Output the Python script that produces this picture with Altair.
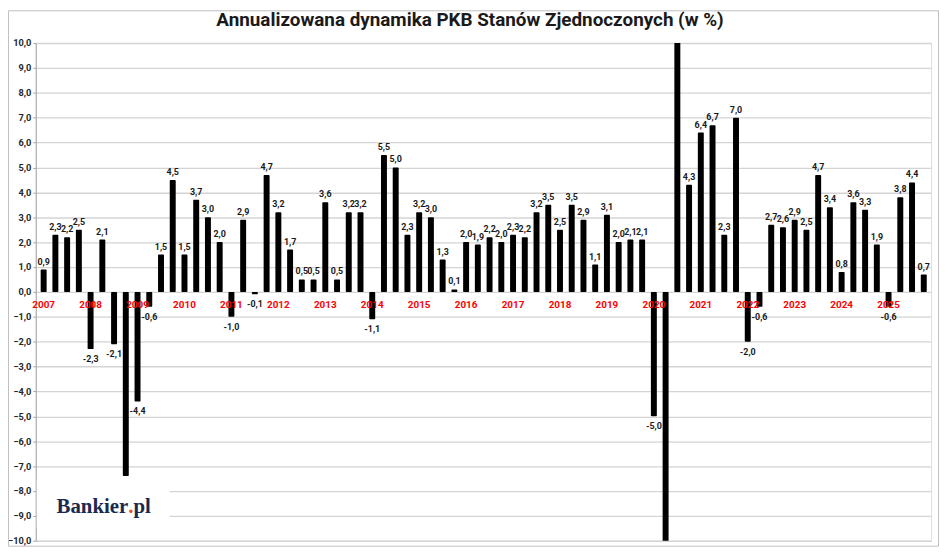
import altair as alt
import pandas as pd

# --- data ---
years = list(range(2007, 2026))
values = [
    0.9, 2.3, 2.2, 2.5,
    -2.3, 2.1, -2.1, -7.4,
    -4.4, -0.6, 1.5, 4.5,
    1.5, 3.7, 3.0, 2.0,
    -1.0, 2.9, -0.1, 4.7,
    3.2, 1.7, 0.5, 0.5,
    3.6, 0.5, 3.2, 3.2,
    -1.1, 5.5, 5.0, 2.3,
    3.2, 3.0, 1.3, 0.1,
    2.0, 1.9, 2.2, 2.0,
    2.3, 2.2, 3.2, 3.5,
    2.5, 3.5, 2.9, 1.1,
    3.1, 2.0, 2.1, 2.1,
    -5.0, -28.0, 35.2, 4.3,
    6.4, 6.7, 2.3, 7.0,
    -2.0, -0.6, 2.7, 2.6,
    2.9, 2.5, 4.7, 3.4,
    0.8, 3.6, 3.3, 1.9,
    -0.6, 3.8, 4.4, 0.7,
]
hidden_labels = [7, 53, 54]  # bars whose value label is not shown
y_ticks = list(range(-10, 11))
title_text = "Annualizowana dynamika PKB Stanów Zjednoczonych (w %)"

# --- tables ---
rows = []
for i, v in enumerate(values):
    rows.append({
        "idx": i,
        "value": v,
        "label": "" if i in hidden_labels else f"{v:.1f}".replace(".", ","),
    })
df = pd.DataFrame(rows)
df_years = pd.DataFrame({"idx": [4 * k for k in range(len(years))],
                         "year": [str(y) for y in years],
                         "value": [0] * len(years)})
one = pd.DataFrame({"a": [0]})

FONT = "Roboto"
W, H = 903, 502

xscale = alt.Scale(domain=[-0.25, 75.2], nice=False, zero=False)
yscale = alt.Scale(domain=[-10, 10], nice=False)
yaxis = alt.Axis(values=y_ticks, title=None, grid=True,
                 gridColor="#d4d4d4", gridWidth=1.3,
                 domainColor="#a6a6a6", tickColor="#a6a6a6",
                 tickSize=3, labelPadding=2,
                 labelOverlap=False, labelFlush=False,
                 labelFont=FONT, labelFontWeight="bold",
                 labelFontSize=9.3, labelColor="#262626",
                 labelExpr="replace(format(datum.value, '.1f'), '.', ',')")

X = alt.X("idx:Q", scale=xscale, axis=None)
Y = alt.Y("value:Q", scale=yscale, axis=yaxis)

base = alt.Chart(df)

bars = base.mark_bar(size=6, color="black", clip=True, cornerRadius=1).encode(
    x=X, y=Y, y2=alt.datum(0))

lab_pos = base.transform_filter("datum.value >= 0").mark_text(
    font=FONT, fontWeight="bold", fontSize=9, color="#1a1a1a",
    baseline="alphabetic", dy=-5).encode(x=X, y=Y, text="label:N")

lab_neg = base.transform_filter("datum.value < 0").mark_text(
    font=FONT, fontWeight="bold", fontSize=9, color="#1a1a1a",
    baseline="alphabetic", dy=13).encode(x=X, y=Y, text="label:N")

year_labels = alt.Chart(df_years).mark_text(
    font=FONT, fontWeight="bold", fontSize=10, color="#ff0000",
    baseline="alphabetic", dy=16.5).encode(x=X, y=Y, text="year:N")

logo_box = alt.Chart(one).mark_rect(color="white").encode(
    x=alt.value(1), x2=alt.value(135), y=alt.value(440), y2=alt.value(489))
logo_a = alt.Chart(one).mark_text(font="Liberation Serif", fontWeight="bold", fontSize=21,
                                  color="#1b2a4e", align="left", baseline="alphabetic").encode(
    x=alt.value(21), y=alt.value(474), text=alt.value("Bankier"))
logo_dot = alt.Chart(one).mark_text(font="Liberation Serif", fontWeight="bold", fontSize=21,
                                    color="#e8501e", align="left", baseline="alphabetic").encode(
    x=alt.value(93.3), y=alt.value(474), text=alt.value("."))
logo_b = alt.Chart(one).mark_text(font="Liberation Serif", fontWeight="bold", fontSize=21,
                                  color="#1b2a4e", align="left", baseline="alphabetic").encode(
    x=alt.value(98.5), y=alt.value(474), text=alt.value("pl"))

title = alt.Chart(one).mark_text(font=FONT, fontWeight="bold", fontSize=19, color="#1a1a1a",
                                 align="center", baseline="alphabetic").encode(
    x=alt.value(438), y=alt.value(-17), text=alt.value(title_text))

border = alt.Chart(one).mark_rect(filled=False, stroke="#bfbfbf", strokeWidth=1).encode(
    x=alt.value(-27.5), x2=alt.value(910.5), y=alt.value(-32.5), y2=alt.value(507.5))

chart = alt.layer(
    bars, lab_pos, lab_neg, year_labels, logo_box, logo_a, logo_dot, logo_b, title, border
).properties(
    width=W, height=H,
    autosize=alt.AutoSizeParams(type="none"),
    padding={"left": 28, "top": 33, "right": 9, "bottom": 6},
).configure_view(stroke=None).configure(background="white")

chart.save("out.html", embed_options={"renderer": "svg", "actions": False})
